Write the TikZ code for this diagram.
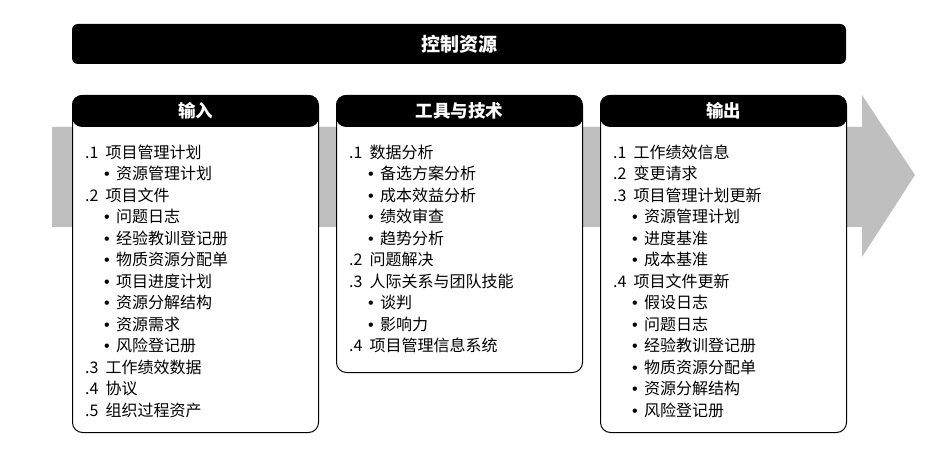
\documentclass[tikz,border=0pt]{standalone}
\usepackage{fontspec}
\setmainfont{Liberation Sans}
\newfontfamily\cjk{Noto Sans CJK SC}
\usetikzlibrary{positioning,calc}
\newcommand{\bul}{{\rmfamily\textbullet}\ \,}

\begin{document}
\begin{tikzpicture}[
    x=1pt, y=-1pt,
    % Title bar
    title bar/.style={
        fill=black,
        rounded corners=6pt,
        minimum width=774pt,
        minimum height=40pt,
        text=white,
        font=\cjk\bfseries\fontsize{19}{22}\selectfont
    },
    % Column frame
    col box/.style={
        draw=black,
        line width=1pt,
        rounded corners=10pt,
        minimum width=246pt,
        anchor=north west,
        inner sep=0pt
    },
    % Column header
    col head/.style={
        text=white,
        font=\cjk\bfseries\fontsize{17.5}{20}\selectfont
    },
    % Item line
    item/.style={
        anchor=west,
        inner sep=0pt,
        font=\cjk\fontsize{16}{18}\selectfont
    }
]

\useasboundingbox (0,0) rectangle (940,454);

% Gray flow arrow
\fill[black!25] (52,127) -- (862,127) -- (862,95) -- (915,175) -- (862,257)
    -- (862,227) -- (52,227) -- cycle;

% Title
\node[title bar] (title) at (459,44) {控制资源};

% Column frames
\node[col box, fill=white, minimum height=337pt] (inbox) at (72,95) {};
\node[col box, fill=white, minimum height=277pt] (toolbox) at (336,95) {};
\node[col box, fill=white, minimum height=337pt] (outbox) at (600,95) {};

% Headers
\foreach \b/\t in {inbox/输入, toolbox/工具与技术, outbox/输出} {
    \begin{scope}
        \clip[rounded corners=10pt] (\b.north west) rectangle ($(\b.north east)+(0,32)$);
        \fill[black] (\b.north west) rectangle ($(\b.north east)+(0,32)$);
    \end{scope}
    \node[col head] (\b-head) at ($(\b.north)+(0,16)$) {\t};
}

% Inputs
\foreach \i/\dx/\t in {
    1/0/{.1\ \ 项目管理计划}, 2/1/{\bul 资源管理计划},
    3/0/{.2\ \ 项目文件}, 4/1/{\bul 问题日志},
    5/1/{\bul 经验教训登记册}, 6/1/{\bul 物质资源分配单},
    7/1/{\bul 项目进度计划}, 8/1/{\bul 资源分解结构},
    9/1/{\bul 资源需求}, 10/1/{\bul 风险登记册},
    11/0/{.3\ \ 工作绩效数据}, 12/0/{.4\ \ 协议},
    13/0/{.5\ \ 组织过程资产}}
    \node[item] (in-\i) at ($(inbox.north west)+(13+19*\dx,57+21.5*\i-21.5)$) {\t};

% Tools and techniques
\foreach \i/\dx/\t in {
    1/0/{.1\ \ 数据分析}, 2/1/{\bul 备选方案分析},
    3/1/{\bul 成本效益分析}, 4/1/{\bul 绩效审查},
    5/1/{\bul 趋势分析}, 6/0/{.2\ \ 问题解决},
    7/0/{.3\ \ 人际关系与团队技能}, 8/1/{\bul 谈判},
    9/1/{\bul 影响力}, 10/0/{.4\ \ 项目管理信息系统}}
    \node[item] (tool-\i) at ($(toolbox.north west)+(13+19*\dx,57+21.5*\i-21.5)$) {\t};

% Outputs
\foreach \i/\dx/\t in {
    1/0/{.1\ \ 工作绩效信息}, 2/0/{.2\ \ 变更请求},
    3/0/{.3\ \ 项目管理计划更新}, 4/1/{\bul 资源管理计划},
    5/1/{\bul 进度基准}, 6/1/{\bul 成本基准},
    7/0/{.4\ \ 项目文件更新}, 8/1/{\bul 假设日志},
    9/1/{\bul 问题日志}, 10/1/{\bul 经验教训登记册},
    11/1/{\bul 物质资源分配单}, 12/1/{\bul 资源分解结构},
    13/1/{\bul 风险登记册}}
    \node[item] (out-\i) at ($(outbox.north west)+(13+19*\dx,57+21.5*\i-21.5)$) {\t};

\end{tikzpicture}
\end{document}
